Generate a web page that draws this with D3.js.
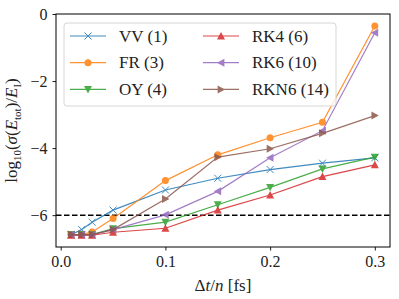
<!DOCTYPE html>
<html>
<head>
<meta charset="utf-8">
<script src="https://cdn.jsdelivr.net/npm/d3@7"></script>
<style>
  body { margin: 0; background: #fff; font-family: "Liberation Serif", serif; }
  #chart text { font-family: "Liberation Serif", serif; }
</style>
</head>
<body>
<svg id="chart" width="399" height="299"></svg>
<script>
// step sizes (fs)
const steps = [0.01, 0.02, 0.03, 0.05, 0.1, 0.15, 0.2, 0.25, 0.3];

// log10 of relative energy std
const vv   = [-6.58, -6.43, -6.21, -5.85, -5.25, -4.90, -4.64, -4.45, -4.29];
const fr   = [-6.58, -6.58, -6.50, -6.10, -4.97, -4.20, -3.69, -3.23, -0.36];
const oy   = [-6.58, -6.58, -6.58, -6.40, -6.21, -5.69, -5.17, -4.62, -4.27];
const rk4  = [-6.60, -6.60, -6.60, -6.51, -6.39, -5.85, -5.40, -4.85, -4.50];
const rk6  = [-6.58, -6.58, -6.58, -6.43, -5.99, -5.29, -4.29, -3.48, -0.56];
const rkn6 = [-6.58, -6.58, -6.58, -6.43, -5.52, -4.27, -4.02, -3.56, -3.03];

const seriesNames = ["VV (1)", "FR (3)", "OY (4)", "RK4 (6)", "RK6 (10)", "RKN6 (14)"];
const seriesColors = ["#1f77b4", "#ff7f0e", "#2ca02c", "#d62728", "#9467bd", "#8c564b"];
const seriesMarkers = ["x", "circle", "tri-down", "tri-up", "tri-left", "tri-right"];
const seriesValues = [vv, fr, oy, rk4, rk6, rkn6];

const xTicks = [0.0, 0.1, 0.2, 0.3];
const yTicks = [0, -2, -4, -6];
const threshold = -6;

const FONT = "Liberation Serif";

const svg = d3.select("#chart").attr("font-family", FONT);
const margin = {left: 56, right: 9, top: 14, bottom: 52};
const width = +svg.attr("width"), height = +svg.attr("height");

const x = d3.scaleLinear()
  .domain([-0.0045, 0.3145])
  .range([margin.left, width - margin.right]);
const y = d3.scaleLinear()
  .domain([-6.95, 0])
  .range([height - margin.bottom, margin.top]);

const fmtMinus = s => s.replace("-", "\u2212");

// axes
const xAxis = svg.append("g")
  .attr("transform", `translate(0,${height - margin.bottom})`)
  .call(d3.axisBottom(x).tickValues(xTicks).tickFormat(d3.format(".1f")).tickSize(3.5).tickPadding(5));
const yAxis = svg.append("g")
  .attr("transform", `translate(${margin.left},0)`)
  .call(d3.axisLeft(y).tickValues(yTicks).tickFormat(d => fmtMinus(d3.format("d")(d))).tickSize(3.5).tickPadding(5));
[xAxis, yAxis].forEach(a => {
  a.attr("font-family", FONT).attr("font-size", 16);
  a.select(".domain").remove();
  a.selectAll("line").attr("stroke", "#000").attr("stroke-width", 0.9);
  a.selectAll("text").attr("fill", "#222").attr("font-family", FONT);
});

// threshold line
svg.append("line")
  .attr("x1", margin.left).attr("x2", width - margin.right)
  .attr("y1", y(threshold)).attr("y2", y(threshold))
  .attr("stroke", "#000").attr("stroke-width", 1.5)
  .attr("stroke-dasharray", "5.5,2.5");

const markerPath = (type, h) => {
  switch (type) {
    case "x": return `M${-h},${-h}L${h},${h}M${-h},${h}L${h},${-h}`;
    case "tri-down": return `M${-h},${-h*0.85}L${h},${-h*0.85}L0,${h}Z`;
    case "tri-up": return `M${-h},${h*0.85}L${h},${h*0.85}L0,${-h}Z`;
    case "tri-left": return `M${h*0.85},${-h}L${h*0.85},${h}L${-h},0Z`;
    case "tri-right": return `M${-h*0.85},${-h}L${-h*0.85},${h}L${h},0Z`;
  }
};

const drawMarker = (g, type, color) => {
  if (type === "circle") {
    g.append("circle").attr("r", 3.5).attr("fill", color);
  } else if (type === "x") {
    g.append("path").attr("d", markerPath("x", 3.5)).attr("stroke", color)
      .attr("stroke-width", 1).attr("fill", "none");
  } else {
    g.append("path").attr("d", markerPath(type, 4)).attr("fill", color);
  }
};

const line = d3.line().x(d => x(d[0])).y(d => y(d[1]));
const plot = svg.append("g");

seriesValues.forEach((vals, i) => {
  const pts = steps.map((s, k) => [s, vals[k]]);
  const g = plot.append("g").attr("opacity", 0.85);
  g.append("path").datum(pts)
    .attr("d", line)
    .attr("fill", "none")
    .attr("stroke", seriesColors[i])
    .attr("stroke-width", 1.2);
  pts.forEach(p => {
    const m = g.append("g").attr("transform", `translate(${x(p[0])},${y(p[1])})`);
    drawMarker(m, seriesMarkers[i], seriesColors[i]);
  });
});

// frame
svg.append("rect")
  .attr("x", margin.left).attr("y", margin.top)
  .attr("width", width - margin.left - margin.right)
  .attr("height", height - margin.top - margin.bottom)
  .attr("fill", "none").attr("stroke", "#000").attr("stroke-width", 1);

// legend
const legend = svg.append("g");
legend.append("rect")
  .attr("x", 64).attr("y", 23).attr("width", 272).attr("height", 83)
  .attr("rx", 3)
  .attr("fill", "#fff").attr("fill-opacity", 0.8)
  .attr("stroke", "#d6d6d6").attr("stroke-width", 1);
seriesNames.forEach((name, i) => {
  const col = Math.floor(i / 3), row = i % 3;
  const lx = col === 0 ? 70 : 203;
  const ly = 36 + row * 26.7;
  const item = legend.append("g").attr("opacity", 0.85);
  item.append("line")
    .attr("x1", lx).attr("x2", lx + 36).attr("y1", ly).attr("y2", ly)
    .attr("stroke", seriesColors[i]).attr("stroke-width", 1.2);
  drawMarker(item.append("g").attr("transform", `translate(${lx + 18},${ly})`), seriesMarkers[i], seriesColors[i]);
  legend.append("text")
    .attr("x", lx + 49).attr("y", ly + 5.5)
    .attr("font-family", FONT)
    .attr("font-size", 17).attr("fill", "#222")
    .text(name);
});

// x label
const xl = svg.append("text")
  .attr("x", (margin.left + width - margin.right) / 2)
  .attr("y", 291)
  .attr("text-anchor", "middle")
  .attr("font-family", FONT)
  .attr("font-size", 17).attr("fill", "#222");
xl.append("tspan").text("\u0394");
xl.append("tspan").attr("font-style", "italic").text("t");
xl.append("tspan").text("/");
xl.append("tspan").attr("font-style", "italic").text("n");
xl.append("tspan").text(" [fs]");

// y label
const yl = svg.append("text")
  .attr("transform", `translate(17,${(margin.top + height - margin.bottom) / 2}) rotate(-90)`)
  .attr("text-anchor", "middle")
  .attr("font-family", FONT)
  .attr("font-size", 17).attr("fill", "#222");
yl.append("tspan").text("log");
yl.append("tspan").attr("font-size", 11).attr("dy", 4).text("10");
yl.append("tspan").attr("dy", -4).text("(");
yl.append("tspan").attr("font-style", "italic").text("\u03c3");
yl.append("tspan").text("(");
yl.append("tspan").attr("font-style", "italic").text("E");
yl.append("tspan").attr("font-size", 11).attr("dy", 4).text("tot");
yl.append("tspan").attr("dy", -4).text(")/");
yl.append("tspan").attr("font-style", "italic").text("E");
yl.append("tspan").attr("font-size", 11).attr("dy", 4).text("I");
yl.append("tspan").attr("dy", -4).text(")");
</script>
</body>
</html>
